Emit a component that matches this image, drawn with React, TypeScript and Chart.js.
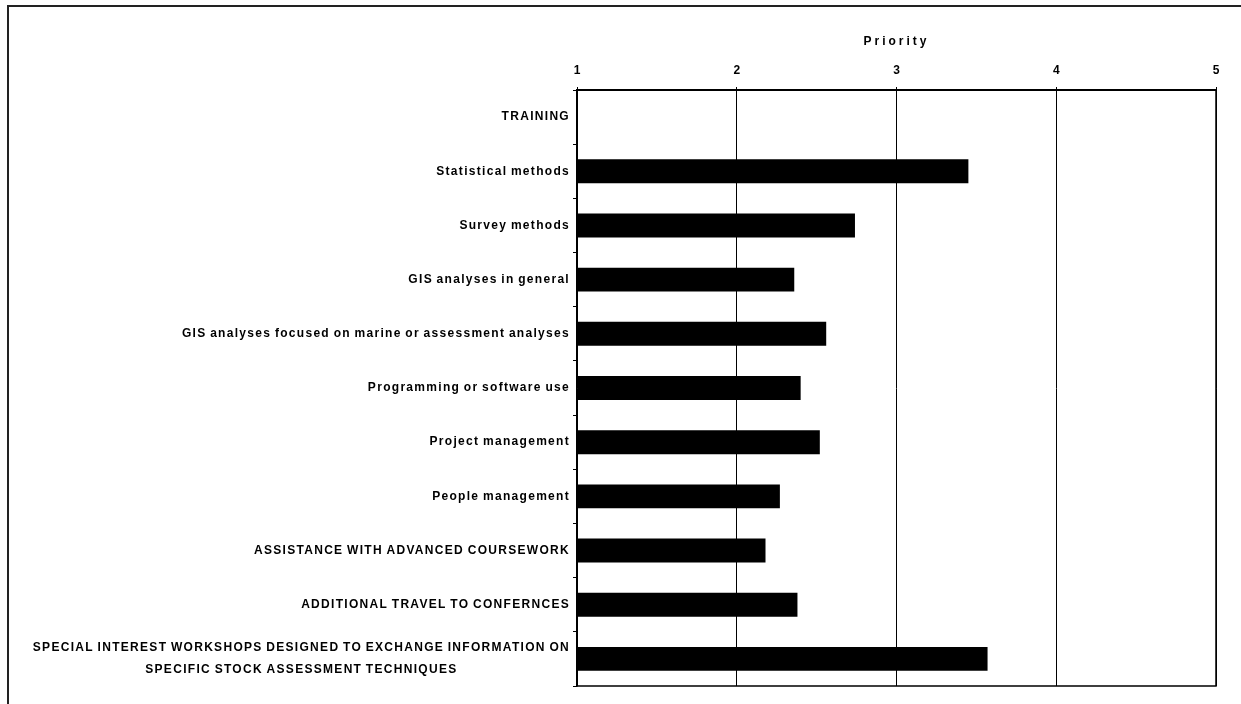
import React, { useEffect, useRef } from "react";
import { Chart, registerables } from "chart.js";

Chart.register(...registerables);

const categories: (string | string[])[] = [
  "TRAINING",
  "Statistical methods",
  "Survey methods",
  "GIS analyses in general",
  "GIS analyses focused on marine or assessment analyses",
  "Programming or software use",
  "Project management",
  "People management",
  "ASSISTANCE WITH ADVANCED COURSEWORK",
  "ADDITIONAL TRAVEL TO CONFERNCES",
  [
    "SPECIAL INTEREST WORKSHOPS DESIGNED TO EXCHANGE INFORMATION ON",
    "SPECIFIC STOCK ASSESSMENT TECHNIQUES",
  ],
];

const priorityValues: (number | null)[] = [
  null, 3.45, 2.74, 2.36, 2.56, 2.4, 2.52, 2.27, 2.18, 2.38, 3.57,
];

const axisMin = 1;
const axisMax = 5;
const axisTitle = "Priority";

const LABEL_FONT = 'bold 12px "Liberation Sans", Arial, sans-serif';

const labelPlugin = {
  id: "customLabels",
  afterDraw(chart: any) {
    const ctx = chart.ctx as CanvasRenderingContext2D;
    const yScale = chart.scales.y;
    const area = chart.chartArea;
    ctx.save();
    // frame around plot
    ctx.strokeStyle = "#000";
    ctx.lineWidth = 1.5;
    ctx.beginPath();
    ctx.moveTo(area.left, area.bottom);
    ctx.lineTo(area.right, area.bottom);
    ctx.lineTo(area.right, area.top);
    ctx.stroke();

    ctx.font = LABEL_FONT;
    (ctx as any).letterSpacing = "1.3px";
    (ctx as any).wordSpacing = "-1px";
    ctx.fillStyle = "#000";
    ctx.textBaseline = "middle";
    ctx.textAlign = "center";
    const right = area.left - 7;
    categories.forEach((lab, i) => {
      const lines = Array.isArray(lab) ? lab : [lab];
      const cy = yScale.getPixelForValue(i);
      const widths = lines.map((l) => ctx.measureText(l).width);
      const maxW = Math.max(...widths);
      const cx = right - maxW / 2;
      const lh = 22;
      lines.forEach((l, k) => {
        ctx.fillText(l, cx, cy + (k - (lines.length - 1) / 2) * lh);
      });
    });

    // axis title
    ctx.font = 'bold 12px "Liberation Sans", Arial, sans-serif';
    (ctx as any).letterSpacing = "3px";
    (ctx as any).wordSpacing = "0px";
    ctx.textAlign = "center";
    ctx.fillText(axisTitle, (area.left + area.right) / 2, 42);
    ctx.restore();
  },
};

export default function App() {
  const canvasRef = useRef<HTMLCanvasElement | null>(null);

  useEffect(() => {
    const canvas = canvasRef.current;
    if (!canvas) return;
    const chart = new Chart(canvas, {
      type: "bar",
      data: {
        labels: categories as any,
        datasets: [
          {
            data: priorityValues as any,
            base: axisMin,
            backgroundColor: "#000",
            borderWidth: 0,
            barPercentage: 0.9,
            categoryPercentage: 0.49,
          } as any,
        ],
      },
      options: {
        indexAxis: "y",
        animation: false,
        responsive: false,
        maintainAspectRatio: false,
        layout: { padding: { top: 0, right: 25, bottom: 18, left: 0 } },
        plugins: {
          legend: { display: false },
          tooltip: { enabled: false },
          title: { display: false },
        },
        scales: {
          x: {
            position: "top",
            min: axisMin,
            max: axisMax,
            ticks: {
              stepSize: 1,
              color: "#000",
              font: { family: '"Liberation Sans", Arial, sans-serif', size: 12, weight: "bold" },
              padding: 9,
            },
            grid: {
              color: "#000",
              lineWidth: 1,
              tickLength: 3,
              tickColor: "#000",
            },
            border: { display: true, color: "#000", width: 2 },
            afterFit: (scale: any) => {
              scale.height = 90;
            },
          },
          y: {
            offset: true,
            ticks: { display: false },
            grid: {
              offset: true,
              drawOnChartArea: false,
              drawTicks: true,
              tickLength: 4,
              tickColor: "#000",
              color: "#000",
            },
            border: { display: true, color: "#000", width: 1.5 },
            afterFit: (scale: any) => {
              scale.width = 577;
            },
          },
        },
      } as any,
      plugins: [labelPlugin],
    });
    return () => chart.destroy();
  }, []);

  return (
    <div style={{ position: "absolute", left: 0, top: 0, width: 1241, height: 704, background: "#fff" }}>
      <canvas ref={canvasRef} width={1241} height={704} style={{ display: "block" }} />
      <div
        style={{
          position: "absolute",
          left: 7,
          top: 5,
          width: 1234,
          height: 699,
          borderLeft: "2px solid #222",
          borderTop: "2px solid #222",
          pointerEvents: "none",
        }}
      />
    </div>
  );
}
